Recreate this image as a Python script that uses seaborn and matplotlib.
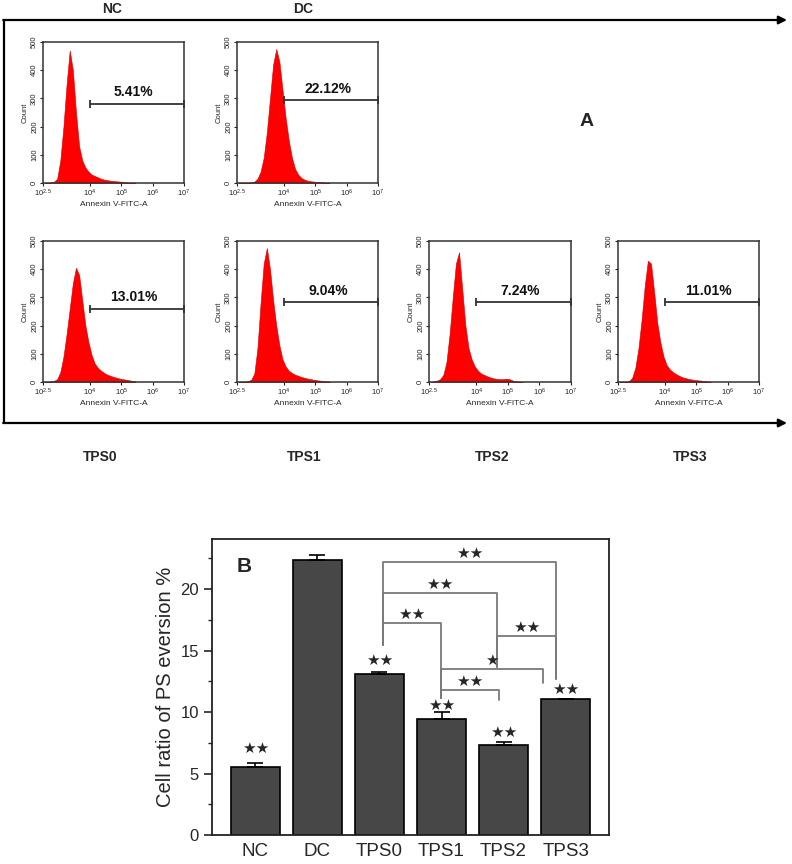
"""Annexin V flow cytometry panels (A) and PS eversion bar chart (B)."""

import matplotlib
matplotlib.use('Agg')
import matplotlib.pyplot as plt
import numpy as np
import seaborn as sns

# ---- panel A: histogram counts, one value per 0.1-decade bin from 10^2.5 to 10^5.5
bin_centers_log = np.arange(2.55, 5.5, 0.1)

nc_counts = [0, 0, 2, 5, 15, 80, 200, 350, 470, 400, 250, 130, 80, 55, 40,
             30, 25, 20, 15, 12, 10, 8, 7, 6, 5, 4, 2, 1, 0, 0]
dc_counts = [0, 0, 0, 1, 2, 5, 15, 40, 90, 180, 300, 420, 475, 430, 330,
             230, 150, 90, 50, 30, 18, 12, 8, 6, 5, 4, 3, 2, 1, 0]
tps0_counts = [0, 0, 2, 4, 10, 35, 90, 170, 260, 350, 405, 380, 290, 200, 140,
               95, 65, 50, 40, 32, 26, 22, 18, 15, 12, 10, 8, 6, 4, 2]
tps1_counts = [0, 0, 1, 3, 8, 30, 120, 280, 420, 475, 400, 290, 200, 130, 80,
               55, 40, 32, 26, 22, 18, 15, 12, 10, 8, 6, 5, 3, 2, 1]
tps2_counts = [0, 2, 5, 10, 25, 70, 170, 300, 420, 460, 330, 200, 120, 80, 55,
               40, 30, 25, 20, 16, 13, 11, 10, 10, 12, 10, 5, 2, 1, 0]
tps3_counts = [0, 0, 1, 3, 15, 50, 120, 220, 340, 430, 420, 320, 210, 140, 90,
               60, 45, 35, 28, 22, 17, 14, 11, 9, 7, 6, 5, 3, 2, 1]

hist_names = ["NC", "DC", "TPS0", "TPS1", "TPS2", "TPS3"]
hist_counts = [nc_counts, dc_counts, tps0_counts, tps1_counts, tps2_counts, tps3_counts]
hist_pct = ["5.41%", "22.12%", "13.01%", "9.04%", "7.24%", "11.01%"]
gate_level = [281, 293, 260, 284, 284, 284]

# ---- panel B: bar chart
groups = ["NC", "DC", "TPS0", "TPS1", "TPS2", "TPS3"]
ratio = [5.56, 22.36, 13.12, 9.40, 7.32, 11.03]
ratio_err = [0.27, 0.40, 0.16, 0.60, 0.27, 0.05]
bar_stars = ["★★", "", "★★", "★★", "★★", "★★"]

# significance brackets: (left x, right x, top y, left foot, right foot, label)
brackets = [
    (2.06, 4.84, 22.2, 15.45, 12.7, "★★"),
    (2.06, 3.89, 19.7, 15.45, 13.7, "★★"),
    (2.06, 2.99, 17.26, 15.45, 11.1, "★★"),
    (3.89, 4.84, 16.2, 13.7, 12.7, "★★"),
    (2.99, 4.63, 13.5, 11.1, 12.4, "★"),
    (2.99, 3.93, 11.8, 11.1, 11.0, "★★"),
]

W, H = 792, 864
sns.set_theme(style="ticks")
plt.rcParams['font.family'] = ['Liberation Sans', 'DejaVu Sans']
plt.rcParams['mathtext.fontset'] = 'custom'
plt.rcParams['mathtext.rm'] = 'Liberation Sans'
plt.rcParams['mathtext.it'] = 'Liberation Sans'

fig = plt.figure(figsize=(W / 100, H / 100), dpi=100)


def px_rect(left, top, right, bottom):
    return [left / W, 1 - bottom / H, (right - left) / W, (bottom - top) / H]


# frame with arrows around panel A
frame = fig.add_axes([0, 0, 1, 1], zorder=-1)
frame.set_xlim(0, W)
frame.set_ylim(H, 0)
frame.axis('off')
frame.plot([4, 4], [20, 423], color='black', lw=1.6)
for yy in (20, 423):
    frame.annotate("", xy=(787, yy), xytext=(3.2, yy),
                   arrowprops=dict(arrowstyle='-|>', color='black', lw=1.6,
                                   mutation_scale=12, shrinkA=0, shrinkB=0))

label_pos = [(112, 9), (303, 9), (100, 457), (304, 457), (492, 457), (690, 457)]
for name, (lx, ly) in zip(hist_names, label_pos):
    frame.text(lx, ly, name, ha='center', va='center', fontsize=10, fontweight='bold')
frame.text(587, 122, "A", ha='center', va='center', fontsize=14, fontweight='bold')

hist_boxes = [(43, 42, 184, 183), (237, 42, 378, 183),
              (43, 241, 184, 382), (237, 241, 378, 382),
              (429, 241, 571, 382), (618, 241, 759, 382)]

for counts, pct, gate, box in zip(hist_counts, hist_pct, gate_level, hist_boxes):
    ax = fig.add_axes(px_rect(*box))
    sns.histplot(x=10 ** bin_centers_log, weights=counts, binwidth=0.1,
                 binrange=(2.5, 5.5), log_scale=True, element="poly",
                 fill=True, color='red', alpha=1, linewidth=0.4,
                 edgecolor='#cc0000', ax=ax)
    ax.set_xlim(10 ** 2.5, 1e7)
    ax.set_ylim(0, 500)
    ax.set_xticks([10 ** 2.5, 1e4, 1e5, 1e6, 1e7])
    ax.set_xticklabels([r'$10^{2.5}$', r'$10^{4}$', r'$10^{5}$', r'$10^{6}$', r'$10^{7}$'])
    ax.minorticks_off()
    ax.set_yticks(range(0, 501, 100))
    ax.set_yticklabels([str(v) for v in range(0, 501, 100)], rotation=90, va='center')
    ax.tick_params(labelsize=5.5, length=2, width=0.8, pad=1.5, colors='#222222')
    ax.set_xlabel("Annexin V-FITC-A", fontsize=6, labelpad=1.5)
    ax.set_ylabel("Count", fontsize=5.5, labelpad=1.5)
    for sp in ax.spines.values():
        sp.set_visible(True)
        sp.set_linewidth(1.1)
        sp.set_color('#333333')
    ax.plot([1e4, 1e7], [gate, gate], color='#333333', lw=1.3,
            marker='|', markersize=6, mew=1.3)
    ax.text(10 ** 5.4, gate + 40, pct, ha='center', va='center',
            fontsize=10, fontweight='bold', color='#111111')

# ---- panel B
axb = fig.add_axes(px_rect(212, 539, 609, 835))
sns.barplot(x=groups, y=ratio, color='#474747', edgecolor='black',
            linewidth=1.2, width=0.8, saturation=1, errorbar=None, ax=axb)
axb.errorbar(x=range(len(groups)), y=ratio,
             yerr=[np.zeros(len(ratio)), ratio_err], fmt='none',
             ecolor='black', elinewidth=1.2, capsize=6, capthick=1.2)
axb.set_xlim(-0.7, 5.7)
axb.set_ylim(0, 24.07)
axb.set_yticks([0, 5, 10, 15, 20])
axb.set_yticks(np.arange(2.5, 24, 5), minor=True)
axb.tick_params(axis='y', which='major', labelsize=12, length=6, width=1.2, direction='out')
axb.tick_params(axis='y', which='minor', length=3, width=1.0, direction='out')
axb.tick_params(axis='x', labelsize=13.5, length=0, pad=6)
axb.set_xlabel("")
axb.set_ylabel("Cell ratio of PS eversion %", fontsize=14.5, labelpad=4)
for sp in axb.spines.values():
    sp.set_visible(True)
    sp.set_linewidth(1.3)
    sp.set_color('#222222')

star_y = [7.05, 0, 14.2, 10.57, 8.35, 11.84]
for i, (s, sy) in enumerate(zip(bar_stars, star_y)):
    if s:
        axb.text(i, sy, s, ha='center', va='center', fontsize=11,
                 family=['DejaVu Sans'])

for x0, x1, top, f0, f1, lab in brackets:
    axb.plot([x0, x0, x1, x1], [f0, top, top, f1], color='#7a7a7a', lw=1.3)
    axb.text((x0 + x1) / 2, top + 0.7, lab, ha='center', va='center',
             fontsize=11, family=['DejaVu Sans'])

axb.text(-0.18, 21.8, "B", ha='center', va='center', fontsize=15, fontweight='bold')

plt.savefig("out.png", dpi=100)
plt.close()
